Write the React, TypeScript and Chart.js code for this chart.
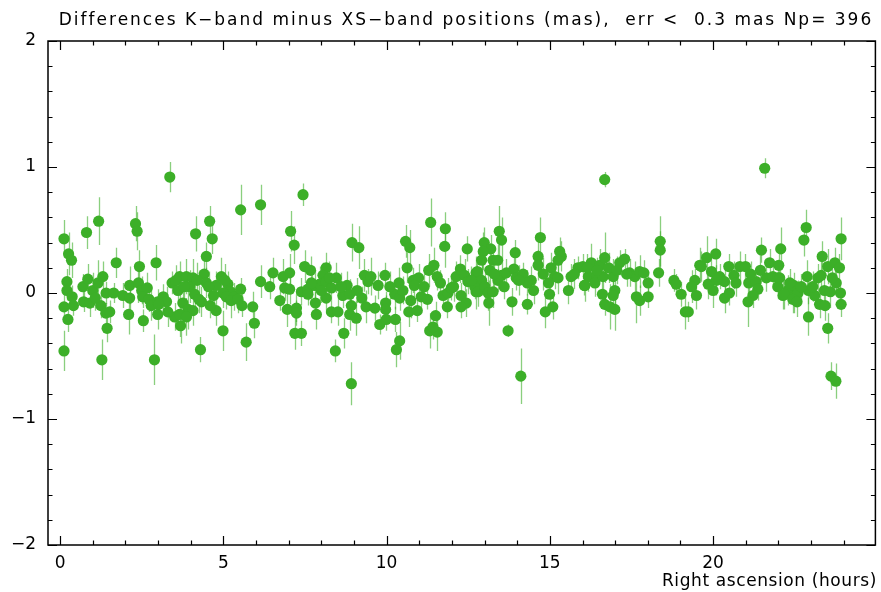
import React, { useEffect, useRef } from "react";
import { Chart, registerables } from "chart.js";

Chart.register(...registerables);

const TITLE = "Differences K\u2212band minus XS\u2212band positions (mas),  err <  0.3 mas Np= 396";
const X_LABEL = "Right ascension (hours)";
const X_TICKS = [0, 5, 10, 15, 20];
const Y_TICKS = [-2, -1, 0, 1, 2];

// Right ascension (hours)
const ra: number[] = [
  0.12, 0.26, 0.35, 0.21, 0.21, 0.37, 0.12, 0.24, 0.41, 0.12, 0.81, 1.18, 0.70, 0.85, 0.72, 0.91, 1.00, 1.16, 1.31, 1.25,
  1.40, 1.52, 1.44, 1.28, 1.41, 1.08, 1.72, 1.64, 1.92, 2.13, 2.13, 2.10, 2.31, 2.36, 2.43, 2.40, 2.50, 2.67, 2.53, 2.72,
  2.79, 2.55, 2.94, 2.99, 2.99, 2.89,
  3.36, 3.43, 3.66, 3.87, 4.07, 4.41, 4.94, 4.48, 4.78, 5.14, 5.22, 4.99, 5.09, 5.34, 5.53, 5.24, 3.16, 3.26, 3.02, 3.61,
  3.97, 4.12, 4.33, 3.76, 3.92, 4.07, 3.51, 3.66, 3.87, 3.69, 4.78, 5.57, 5.90, 5.95, 4.99, 5.70, 4.30, 6.14, 5.53, 6.14,
  4.58, 4.15, 4.66, 4.48,
  7.44, 7.06, 7.17, 8.94, 9.15, 6.52, 6.42, 6.83, 7.03, 7.49, 7.67, 8.15, 8.05, 8.46, 9.32, 9.43, 6.88, 7.03, 7.39, 7.59,
  7.80, 7.95, 8.15, 8.31, 7.59, 8.79, 8.66, 8.87, 9.24, 9.37, 6.73, 6.96, 7.24, 7.24, 7.82, 7.85, 8.15, 8.31, 8.51, 8.92,
  8.87, 9.07, 7.19, 7.39, 8.69, 8.43, 8.92,
  11.35, 11.80, 11.78, 10.58, 10.71, 12.47, 10.63, 9.52, 9.74, 9.95, 10.38, 10.81, 10.98, 10.85, 11.29, 11.45, 11.55, 12.13, 12.26, 12.39,
  12.49, 12.74, 12.74, 9.64, 9.97, 9.97, 10.25, 10.40, 10.74, 11.06, 11.25, 11.73, 11.88, 11.98, 11.86, 12.28, 12.44, 12.28, 10.68, 10.94,
  9.79, 9.99, 10.27, 11.50, 11.32, 11.55, 11.42, 10.40, 10.30,
  13.45, 13.52, 14.71, 12.99, 13.19, 12.96, 12.91, 13.26, 13.40, 13.94, 14.64, 14.64, 15.30, 15.35, 15.25, 12.78, 13.16, 12.91, 13.52, 13.67,
  13.90, 13.97, 14.18, 14.43, 14.31, 13.41, 15.04, 15.15, 14.96, 15.25, 12.70, 12.80, 13.01, 13.11, 13.26, 13.13, 13.84, 14.31, 14.99, 15.09,
  14.86, 15.57, 13.72, 14.11, 15.65, 15.86, 16.01, 16.06,
  16.68, 18.38, 18.38, 18.33, 16.27, 16.53, 16.68, 17.14, 17.29, 16.18, 16.43, 16.07, 16.38, 16.63, 16.94, 17.44, 17.60, 17.75, 17.88, 18.01,
  16.61, 16.99, 16.94, 16.68, 16.84, 16.99, 17.65, 17.75, 18.01, 18.80, 18.87, 19.02, 19.15,
  21.58, 21.48, 22.07, 21.73, 22.01, 19.80, 20.08, 19.59, 19.64, 19.95, 20.20, 20.35, 20.48, 20.64, 20.82, 20.99, 19.44, 19.49, 19.34, 19.24,
  19.85, 20.00, 20.35, 20.50, 21.09, 21.32, 21.63, 21.83, 21.98, 21.37, 21.22, 21.07, 21.98, 22.14, 22.29, 22.47, 22.49,
  22.85, 22.78, 23.92, 23.34, 23.51, 23.73, 23.87, 23.77, 22.88, 23.21, 23.31, 22.04, 22.18, 22.60, 22.44, 22.57, 22.92, 23.11, 23.41, 23.59,
  23.90, 23.92, 23.26, 23.43, 22.92, 23.51, 23.61, 23.76,
  3.55, 3.80, 4.20, 4.25, 4.55, 4.70, 5.05, 5.45, 3.30, 4.60, 7.70, 8.00, 8.25, 8.60, 9.10, 10.10, 10.50, 11.15, 11.65, 12.05,
  12.60, 13.30, 13.60, 14.05, 14.50, 14.80, 15.75, 16.15, 16.45, 16.80, 17.05, 17.35, 20.10, 20.70, 21.15, 21.45, 22.35, 22.70, 23.05, 23.65,
];

// Difference K minus XS (mas)
const diff: number[] = [
  0.43, 0.31, 0.26, 0.09, 0.02, -0.03, -0.11, -0.21, -0.10, -0.46, 0.48, 0.57, 0.05, 0.11, -0.07, -0.08, 0.02, 0.08, 0.13, -0.10,
  -0.16, -0.15, -0.28, -0.53, 0.00, -0.04, 0.24, 0.00, -0.02, 0.06, -0.04, -0.17, 0.55, 0.49, 0.21, 0.08, 0.02, 0.04, -0.03, -0.05,
  -0.10, -0.22, 0.24, -0.07, -0.17, -0.53,
  0.92, 0.08, 0.13, 0.13, 0.12, 0.15, 0.13, 0.08, 0.06, 0.07, 0.01, 0.00, -0.03, -0.03, 0.03, -0.06, -0.03, -0.07, -0.09, 0.02,
  0.05, -0.01, -0.07, -0.08, -0.13, -0.14, -0.19, -0.17, -0.19, -0.26, -0.14, -0.10, -0.11, -0.24, -0.30, -0.39, -0.45, 0.09, 0.66, 0.70,
  0.57, 0.47, 0.43, 0.29,
  0.78, 0.49, 0.38, 0.40, 0.36, 0.16, 0.05, 0.13, 0.16, 0.21, 0.18, 0.20, 0.14, 0.12, 0.14, 0.09, 0.04, 0.03, 0.01, 0.03,
  0.06, 0.07, 0.09, 0.04, -0.01, 0.06, -0.02, -0.01, -0.04, -0.11, -0.06, -0.13, -0.12, -0.16, -0.08, -0.17, -0.04, -0.15, -0.15, -0.10,
  -0.17, -0.20, -0.32, -0.32, -0.32, -0.46, -0.72,
  0.56, 0.51, 0.37, 0.41, 0.36, 0.35, 0.20, 0.13, 0.06, 0.14, 0.08, 0.10, 0.12, 0.06, 0.18, 0.22, 0.13, 0.13, 0.19, 0.14,
  0.09, 0.16, 0.01, -0.12, -0.08, -0.13, -0.01, -0.04, -0.06, -0.03, -0.05, -0.02, 0.00, 0.04, -0.11, -0.02, -0.08, -0.11, -0.15, -0.14,
  -0.25, -0.21, -0.21, -0.18, -0.30, -0.31, -0.27, -0.38, -0.45,
  0.49, 0.42, 0.44, 0.40, 0.35, 0.33, 0.26, 0.26, 0.26, 0.32, 0.29, 0.22, 0.33, 0.29, 0.26, 0.17, 0.18, 0.10, 0.14, 0.16,
  0.19, 0.12, 0.15, 0.10, 0.08, 0.10, 0.20, 0.13, 0.08, 0.12, 0.05, 0.01, 0.05, 0.00, 0.01, -0.08, -0.07, -0.09, -0.01, -0.11,
  -0.15, 0.02, -0.30, -0.66, 0.13, 0.20, 0.21, 0.06,
  0.90, 0.41, 0.34, 0.16, 0.24, 0.22, 0.28, 0.24, 0.27, 0.13, 0.14, 0.06, 0.08, 0.13, 0.13, 0.16, 0.13, 0.17, 0.16, 0.08,
  -0.01, 0.02, -0.02, -0.09, -0.11, -0.13, -0.03, -0.06, -0.03, 0.10, 0.07, -0.01, -0.15,
  0.99, 0.34, 0.35, 0.24, 0.22, 0.28, 0.31, 0.22, 0.21, 0.17, 0.13, 0.09, 0.21, 0.14, 0.21, 0.21, 0.10, -0.02, 0.05, -0.15,
  0.07, 0.02, -0.04, 0.00, 0.08, 0.09, 0.12, 0.13, 0.12, 0.03, -0.02, -0.07, 0.05, -0.02, 0.02, 0.06, -0.03,
  0.52, 0.42, 0.43, 0.29, 0.21, 0.24, 0.20, 0.08, 0.13, 0.12, 0.14, 0.12, -0.01, 0.00, -0.05, -0.07, 0.02, -0.02, 0.02, 0.01,
  0.00, -0.09, -0.09, -0.10, -0.19, -0.28, -0.66, -0.70,
  0.10, 0.05, 0.10, -0.05, 0.05, -0.02, 0.10, -0.05, -0.15, -0.10, 0.08, 0.02, 0.12, 0.05, 0.02, 0.05, 0.02, 0.05, 0.08, 0.05,
  0.10, 0.15, 0.05, 0.10, 0.02, 0.15, 0.15, 0.20, 0.18, 0.20, 0.18, 0.15, 0.10, 0.08, 0.15, 0.18, 0.08, 0.05, 0.05, 0.12,
];

// Formal error (mas)
const err: number[] = [
  0.15, 0.17, 0.14, 0.10, 0.08, 0.09, 0.12, 0.10, 0.08, 0.16, 0.13, 0.19, 0.10, 0.12, 0.08, 0.11, 0.14, 0.18, 0.12, 0.10,
  0.08, 0.09, 0.11, 0.16, 0.09, 0.10, 0.12, 0.08, 0.10, 0.15, 0.10, 0.16, 0.14, 0.15, 0.13, 0.16, 0.11, 0.12, 0.09, 0.10,
  0.12, 0.09, 0.14, 0.10, 0.12, 0.20,
  0.12, 0.09, 0.12, 0.14, 0.15, 0.13, 0.15, 0.12, 0.11, 0.10, 0.09, 0.12, 0.10, 0.11, 0.09, 0.14, 0.10, 0.12, 0.09, 0.11,
  0.13, 0.10, 0.12, 0.15, 0.16, 0.12, 0.11, 0.18, 0.15, 0.14, 0.12, 0.09, 0.12, 0.12, 0.16, 0.15, 0.10, 0.13, 0.20, 0.16,
  0.12, 0.14, 0.12, 0.11,
  0.09, 0.16, 0.15, 0.15, 0.17, 0.12, 0.10, 0.14, 0.15, 0.13, 0.11, 0.12, 0.10, 0.12, 0.13, 0.10, 0.10, 0.12, 0.11, 0.09,
  0.12, 0.14, 0.11, 0.10, 0.09, 0.11, 0.10, 0.12, 0.09, 0.13, 0.08, 0.14, 0.11, 0.10, 0.09, 0.12, 0.10, 0.09, 0.11, 0.10,
  0.13, 0.14, 0.13, 0.10, 0.12, 0.09, 0.17,
  0.19, 0.13, 0.17, 0.13, 0.14, 0.10, 0.12, 0.15, 0.11, 0.10, 0.12, 0.10, 0.11, 0.09, 0.13, 0.14, 0.11, 0.12, 0.11, 0.13,
  0.10, 0.13, 0.14, 0.10, 0.09, 0.11, 0.12, 0.10, 0.14, 0.09, 0.08, 0.11, 0.12, 0.10, 0.09, 0.10, 0.11, 0.09, 0.12, 0.09,
  0.08, 0.09, 0.10, 0.11, 0.14, 0.15, 0.10, 0.15, 0.14,
  0.20, 0.18, 0.16, 0.12, 0.11, 0.15, 0.13, 0.10, 0.12, 0.10, 0.14, 0.12, 0.11, 0.12, 0.10, 0.11, 0.13, 0.12, 0.10, 0.11,
  0.12, 0.10, 0.09, 0.11, 0.10, 0.09, 0.12, 0.10, 0.11, 0.13, 0.10, 0.12, 0.11, 0.14, 0.13, 0.18, 0.11, 0.08, 0.09, 0.10,
  0.13, 0.11, 0.05, 0.22, 0.10, 0.09, 0.10, 0.08,
  0.06, 0.20, 0.15, 0.11, 0.15, 0.13, 0.20, 0.10, 0.08, 0.12, 0.10, 0.13, 0.11, 0.12, 0.14, 0.11, 0.12, 0.13, 0.10, 0.09,
  0.10, 0.15, 0.12, 0.09, 0.18, 0.17, 0.21, 0.12, 0.09, 0.09, 0.08, 0.10, 0.14,
  0.08, 0.10, 0.17, 0.11, 0.15, 0.17, 0.12, 0.14, 0.12, 0.11, 0.10, 0.12, 0.10, 0.11, 0.12, 0.10, 0.09, 0.11, 0.13, 0.08,
  0.12, 0.14, 0.12, 0.10, 0.11, 0.10, 0.11, 0.10, 0.12, 0.09, 0.10, 0.20, 0.10, 0.11, 0.12, 0.10, 0.13,
  0.14, 0.13, 0.17, 0.12, 0.14, 0.12, 0.11, 0.09, 0.13, 0.11, 0.12, 0.10, 0.12, 0.10, 0.11, 0.12, 0.11, 0.10, 0.12, 0.13,
  0.10, 0.10, 0.11, 0.12, 0.15, 0.12, 0.11, 0.14,
  0.12, 0.10, 0.14, 0.11, 0.12, 0.10, 0.13, 0.11, 0.12, 0.10, 0.12, 0.10, 0.13, 0.11, 0.10, 0.12, 0.11, 0.13, 0.10, 0.12,
  0.11, 0.14, 0.10, 0.12, 0.11, 0.13, 0.12, 0.11, 0.10, 0.12, 0.11, 0.10, 0.12, 0.11, 0.10, 0.12, 0.11, 0.10, 0.12, 0.11,
];

const POINT_COLOR = "#3caf28";
const BAR_COLOR = "rgba(60,175,40,0.6)";
const FONT = "DejaVu Sans";

const errorBarPlugin = {
  id: "errorBars",
  beforeDatasetsDraw(chart: any) {
    const { ctx, scales, chartArea } = chart;
    const xs = scales.x;
    const ys = scales.y;
    ctx.save();
    ctx.beginPath();
    ctx.rect(chartArea.left, chartArea.top, chartArea.right - chartArea.left, chartArea.bottom - chartArea.top);
    ctx.clip();
    ctx.strokeStyle = BAR_COLOR;
    ctx.lineWidth = 1.3;
    const n = Math.min(ra.length, diff.length, err.length);
    for (let i = 0; i < n; i++) {
      const px = Math.round(xs.getPixelForValue(ra[i])) + 0.5;
      const y1 = ys.getPixelForValue(diff[i] - err[i]);
      const y2 = ys.getPixelForValue(diff[i] + err[i]);
      ctx.beginPath();
      ctx.moveTo(px, y1);
      ctx.lineTo(px, y2);
      ctx.stroke();
    }
    ctx.restore();
  },
};

const framePlugin = {
  id: "frame",
  afterDraw(chart: any) {
    const { ctx, scales, chartArea } = chart;
    const xs = scales.x;
    const ys = scales.y;
    const { left, right, top, bottom } = chartArea;
    ctx.save();
    ctx.strokeStyle = "#000";
    ctx.lineWidth = 1.5;
    ctx.strokeRect(left, top, right - left, bottom - top);
    ctx.lineWidth = 1.2;
    ctx.beginPath();
    for (let h = 0; h <= 24; h++) {
      const px = Math.round(xs.getPixelForValue(h)) + 0.5;
      const len = h % 5 === 0 ? 9 : 4.5;
      ctx.moveTo(px, bottom);
      ctx.lineTo(px, bottom - len);
      ctx.moveTo(px, top);
      ctx.lineTo(px, top + len);
    }
    for (let k = -10; k <= 10; k++) {
      const v = k / 5;
      const py = Math.round(ys.getPixelForValue(v)) + 0.5;
      const len = k % 5 === 0 ? 9 : 4.5;
      ctx.moveTo(left, py);
      ctx.lineTo(left + len, py);
      ctx.moveTo(right, py);
      ctx.lineTo(right - len, py);
    }
    ctx.stroke();

    ctx.fillStyle = "#000";
    ctx.font = `17px "${FONT}"`;
    ctx.textBaseline = "alphabetic";
    ctx.textAlign = "left";
    (ctx as any).letterSpacing = "2px";
    const tw = ctx.measureText(TITLE).width;
    ctx.fillText(TITLE, 466 - tw / 2, 25);
    (ctx as any).letterSpacing = "0.6px";
    const lw = ctx.measureText(X_LABEL).width;
    ctx.fillText(X_LABEL, 877 - lw, 586);
    ctx.restore();
  },
};

export default function App() {
  const ref = useRef<HTMLCanvasElement | null>(null);
  useEffect(() => {
    if (!ref.current) return;
    const points = ra.map((x, i) => ({ x, y: diff[i] }));
    const chart = new Chart(ref.current, {
      type: "scatter",
      data: {
        datasets: [
          {
            data: points,
            backgroundColor: POINT_COLOR,
            borderColor: POINT_COLOR,
            borderWidth: 0,
            pointRadius: 5.6,
            pointHoverRadius: 5.6,
          },
        ],
      },
      options: {
        responsive: false,
        animation: false,
        events: [],
        layout: { padding: { top: 41, right: 4, left: 0, bottom: 0 } },
        plugins: { legend: { display: false }, tooltip: { enabled: false }, title: { display: false } },
        scales: {
          x: {
            type: "linear",
            min: -0.37,
            max: 24.97,
            grid: { display: false, drawTicks: false },
            border: { display: false },
            afterFit: (s: any) => {
              s.height = 47;
            },
            afterBuildTicks: (s: any) => {
              s.ticks = X_TICKS.map((v) => ({ value: v }));
            },
            ticks: {
              color: "#000",
              font: { family: FONT, size: 17 },
              padding: 8,
              maxRotation: 0,
              autoSkip: false,
            },
          },
          y: {
            type: "linear",
            min: -2,
            max: 2,
            grid: { display: false, drawTicks: false },
            border: { display: false },
            afterFit: (s: any) => {
              s.width = 48;
            },
            afterBuildTicks: (s: any) => {
              s.ticks = Y_TICKS.map((v) => ({ value: v }));
            },
            ticks: {
              color: "#000",
              font: { family: FONT, size: 17 },
              padding: 12,
              callback: (v: any) => (Number(v) < 0 ? "\u2212" + Math.abs(Number(v)) : String(v)),
            },
          },
        },
      },
      plugins: [errorBarPlugin, framePlugin],
    });
    return () => chart.destroy();
  }, []);
  return (
    <div style={{ position: "fixed", left: 0, top: 0, width: 881, height: 592, background: "#fff" }}>
      <canvas ref={ref} width={881} height={592} />
    </div>
  );
}
